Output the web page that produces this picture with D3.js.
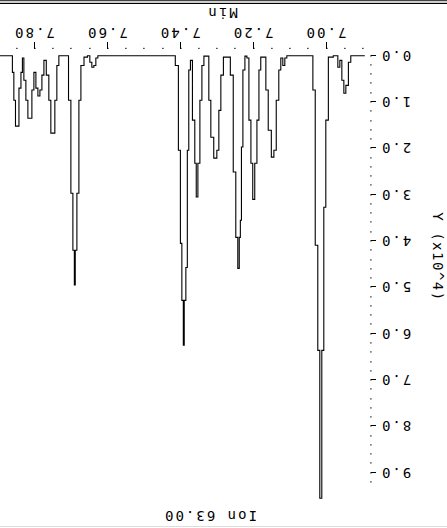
<!DOCTYPE html>
<html><head><meta charset="utf-8">
<script src="https://cdn.jsdelivr.net/npm/d3@7"></script>
<style>
html,body{margin:0;padding:0;background:#fff;}
svg{display:block;}
text{font-family:"DejaVu Sans Mono",monospace;font-size:14px;fill:#000;}
</style></head>
<body>
<script>
// ---- data ----
const title = "Ion 63.00";
const xLabel = "Min";
const yLabel = "Y (x10^4)";
const xTickValues = [7.00, 7.20, 7.40, 7.60, 7.80];
const xTickLabels = ["7.00", "7.20", "7.40", "7.60", "7.80"];
const yTickValues = [0, 1, 2, 3, 4, 5, 6, 7, 8, 9];
const yTickLabels = ["0.0", "1.0", "2.0", "3.0", "4.0", "5.0", "6.0", "7.0", "8.0", "9.0"];
const times = [6.895,6.931,6.936,6.944,6.950,6.955,6.961,6.966,6.972,6.991,6.999,7.005,7.010,7.016,7.021,7.027,7.035,7.040,
  7.106,7.112,7.117,7.123,7.128,7.134,7.142,7.147,7.156,7.164,7.169,7.178,7.183,7.188,7.194,7.200,7.205,7.210,7.216,
  7.221,7.227,7.232,7.235,7.238,7.241,7.246,7.252,7.260,7.268,7.279,7.287,7.293,7.298,7.304,7.315,7.320,7.326,
  7.334,7.339,7.345,7.350,7.356,7.359,7.364,7.372,7.375,7.381,7.383,7.389,7.392,7.394,7.400,7.402,7.411,7.419,
  7.625,7.630,7.636,7.641,7.647,7.652,7.660,7.671,7.677,7.682,7.688,7.691,7.693,7.699,7.704,7.712,
  7.732,7.737,7.743,7.748,7.754,7.759,7.765,7.773,7.778,7.784,7.789,7.795,7.800,7.806,7.811,7.817,7.822,7.828,
  7.833,7.836,7.841,7.847,7.852,7.855,7.861,7.863,7.896];
const intensity = [0,0,0.14,0.64,0.81,0.53,0.10,0.25,0,0.03,1.39,3.27,6.36,9.55,6.36,4.09,0.74,0,
  0,0.05,0.21,0.05,0.31,0.96,2.04,2.19,1.61,0.74,0.03,0.03,0.31,1.39,2.32,3.10,2.32,1.39,0.05,
  0.01,0.31,1.97,3.55,3.92,4.59,3.92,2.51,0.42,0.03,0.03,0.42,1.18,2.04,2.21,1.76,0.96,0.01,
  0.01,0.21,0.96,2.32,3.05,2.32,1.39,0.10,0.31,2.04,4.57,5.28,6.25,5.28,4.05,2.04,0.21,0,
  0,0.05,0.21,0.25,0.14,0,0.03,0.21,0.96,2.97,4.20,4.95,4.20,2.97,0.96,0,
  0,0.21,0.96,1.67,1.67,0.96,0.42,0.10,0.42,0.74,0.87,0.70,0.36,0.74,1.35,1.35,0.96,0.53,
  0.05,0.36,0.70,1.52,1.52,0.96,0.36,0,0];

// ---- drawing ----
const W = 447, H = 528;
const svg = d3.select("body").append("svg").attr("width", W).attr("height", H);
// whole chart is shown turned upside down
const g = svg.append("g").attr("transform", `rotate(180, ${W/2}, ${H/2})`);

const x = d3.scaleLinear().domain([6.878, 7.896]).range([76, 447]);
const y = d3.scaleLinear().domain([0, 9]).range([472.3, 55.3]);

// frame lines
g.append("line").attr("x1",0).attr("x2",W).attr("y1",1.5).attr("y2",1.5).attr("stroke","#ddd");
g.append("line").attr("x1",0).attr("x2",W).attr("y1",524.5).attr("y2",524.5).attr("stroke","#000");
g.append("line").attr("x1",0).attr("x2",W).attr("y1",526).attr("y2",526).attr("stroke","#999");
g.append("line").attr("x1",0).attr("x2",W).attr("y1",527.5).attr("y2",527.5).attr("stroke","#444");

// y axis: dotted minor ticks, dash major ticks
const yMinor = d3.range(0, 47).map(i => i * 0.2);
g.selectAll(".ydot").data(yMinor).join("rect").attr("class","ydot")
  .attr("x", 75.5).attr("y", d => Math.round(y(d)) - 0.5).attr("width", 1.2).attr("height", 1.2).attr("fill", "#000");
g.selectAll(".ytick").data(yTickValues).join("line").attr("class","ytick")
  .attr("x1", 71).attr("x2", 76).attr("y1", d => Math.round(y(d)) + 0.5).attr("y2", d => Math.round(y(d)) + 0.5)
  .attr("stroke", "#000").attr("shape-rendering","crispEdges");
g.selectAll(".ylab").data(yTickValues).join("text").attr("class","ylab")
  .attr("x", 67).attr("y", d => y(d)).attr("text-anchor","end").attr("dominant-baseline","central")
  .style("letter-spacing","2px").text((d,i) => yTickLabels[i]);

// x axis
const xMinor = d3.range(0, 20).map(i => 6.90 + i * 0.05);
g.selectAll(".xdot").data(xMinor).join("rect").attr("class","xdot")
  .attr("x", d => Math.round(x(d)) - 0.5).attr("y", 479).attr("width", 1.2).attr("height", 1.2).attr("fill", "#000");
g.selectAll(".xtick").data(xTickValues).join("line").attr("class","xtick")
  .attr("x1", d => Math.round(x(d)) + 0.5).attr("x2", d => Math.round(x(d)) + 0.5).attr("y1", 479).attr("y2", 486)
  .attr("stroke", "#000").attr("shape-rendering","crispEdges");
g.selectAll(".xlab").data(xTickValues).join("text").attr("class","xlab")
  .attr("x", d => x(d) + 1).attr("y", 495).attr("text-anchor","middle").attr("dominant-baseline","central")
  .style("letter-spacing","2px").text((d,i) => xTickLabels[i]);

// labels
g.append("text").attr("x", 225).attr("y", 515).attr("text-anchor","middle").attr("dominant-baseline","central")
  .style("letter-spacing","2px").text(xLabel);
g.append("text").attr("x", 237).attr("y", 12).attr("text-anchor","middle").attr("dominant-baseline","central")
  .style("letter-spacing","2px").text(title);
g.append("text").attr("transform", "translate(9,271) rotate(-90)").attr("text-anchor","middle")
  .attr("dominant-baseline","central").style("letter-spacing","1.5px").text(yLabel);

// chromatogram trace (stepped, as the instrument plot draws it)
const pts = times.map((t, i) => [t, intensity[i]]);
g.append("path").datum(pts)
  .attr("d", d3.line().x(d => x(d[0])).y(d => y(d[1])).curve(d3.curveStep))
  .attr("fill", "none").attr("stroke", "#000").attr("stroke-width", 1.1);
</script>
</body></html>
